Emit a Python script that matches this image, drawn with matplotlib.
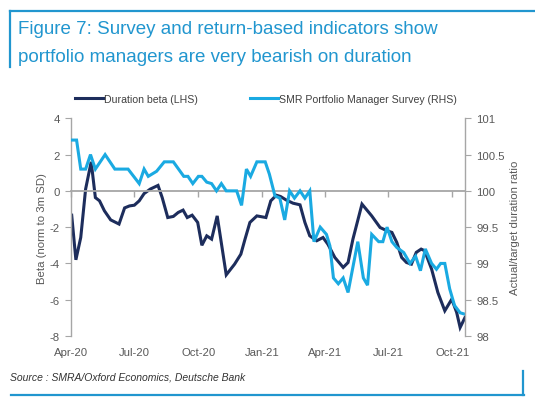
import matplotlib.pyplot as plt
import matplotlib.dates as mdates
import pandas as pd

# Duration beta (LHS)
beta_dates = [
    "2020-04-02", "2020-04-08", "2020-04-15", "2020-04-22", "2020-04-30",
    "2020-05-06", "2020-05-12", "2020-05-19", "2020-05-28", "2020-06-09",
    "2020-06-17", "2020-06-24", "2020-07-01", "2020-07-08", "2020-07-15",
    "2020-07-24", "2020-08-04", "2020-08-10", "2020-08-18", "2020-08-26",
    "2020-09-02", "2020-09-09", "2020-09-15", "2020-09-22", "2020-09-30",
    "2020-10-06", "2020-10-13", "2020-10-20", "2020-10-28", "2020-11-10",
    "2020-11-22", "2020-12-01", "2020-12-07", "2020-12-14", "2020-12-24",
    "2021-01-06", "2021-01-13", "2021-01-21", "2021-01-27", "2021-02-04",
    "2021-02-14", "2021-02-24", "2021-03-03", "2021-03-10", "2021-03-20",
    "2021-03-29", "2021-04-05", "2021-04-15", "2021-04-27", "2021-05-04",
    "2021-05-11", "2021-05-24", "2021-06-07", "2021-06-19", "2021-06-29",
    "2021-07-06", "2021-07-13", "2021-07-20", "2021-07-27", "2021-08-03",
    "2021-08-10", "2021-08-17", "2021-08-22", "2021-09-01", "2021-09-10",
    "2021-09-20", "2021-09-30", "2021-10-07", "2021-10-12", "2021-10-19",
]
beta_values = [
    -1.34, -3.8, -2.57, 0.1, 1.6,
    -0.37, -0.55, -1.1, -1.6, -1.83,
    -0.94, -0.83, -0.79, -0.55, -0.15,
    0.1, 0.3, -0.37, -1.47, -1.41,
    -1.19, -1.06, -1.47, -1.34, -1.74,
    -3.0, -2.48, -2.66, -1.38, -4.63,
    -4.04, -3.49, -2.66, -1.74, -1.38,
    -1.47, -0.55, -0.24, -0.31, -0.5,
    -0.68, -0.77, -1.74, -2.48, -2.75,
    -2.57, -2.94, -3.67, -4.22, -3.95,
    -2.66, -0.73, -1.38, -2.02, -2.2,
    -2.29, -2.84, -3.67, -3.95, -4.04,
    -3.39, -3.21, -3.3, -4.31, -5.6,
    -6.61, -5.97, -6.7, -7.53, -6.98,
]

# SMR Portfolio Manager Survey (RHS)
survey_dates = [
    "2020-04-02", "2020-04-09", "2020-04-15", "2020-04-22", "2020-04-29",
    "2020-05-06", "2020-05-20", "2020-06-03", "2020-06-22", "2020-07-08",
    "2020-07-15", "2020-07-21", "2020-08-02", "2020-08-13", "2020-08-26",
    "2020-09-10", "2020-09-16", "2020-09-23", "2020-10-01", "2020-10-06",
    "2020-10-13", "2020-10-20", "2020-10-27", "2020-11-03", "2020-11-10",
    "2020-11-25", "2020-12-02", "2020-12-09", "2020-12-15", "2020-12-24",
    "2021-01-05", "2021-01-11", "2021-01-19", "2021-01-26", "2021-02-02",
    "2021-02-09", "2021-02-16", "2021-02-24", "2021-03-03", "2021-03-10",
    "2021-03-16", "2021-03-25", "2021-04-03", "2021-04-08", "2021-04-13",
    "2021-04-20", "2021-04-27", "2021-05-04", "2021-05-18", "2021-05-26",
    "2021-06-01", "2021-06-07", "2021-06-17", "2021-06-23", "2021-06-29",
    "2021-07-06", "2021-07-13", "2021-07-23", "2021-08-01", "2021-08-09",
    "2021-08-16", "2021-08-23", "2021-09-01", "2021-09-08", "2021-09-14",
    "2021-09-20", "2021-09-27", "2021-10-04", "2021-10-12", "2021-10-19",
]
survey_values = [
    100.70, 100.70, 100.30, 100.30, 100.50,
    100.30, 100.50, 100.30, 100.30, 100.10,
    100.30, 100.20, 100.27, 100.40, 100.40,
    100.20, 100.20, 100.10, 100.20, 100.20,
    100.12, 100.10, 100.00, 100.10, 100.00,
    100.00, 99.80, 100.30, 100.20, 100.40,
    100.40, 100.23, 99.93, 99.90, 99.60,
    100.00, 99.90, 100.00, 99.90, 100.00,
    99.30, 99.50, 99.40, 99.24, 98.80,
    98.72, 98.80, 98.60, 99.30, 98.80,
    98.70, 99.40, 99.30, 99.30, 99.50,
    99.30, 99.22, 99.15, 99.00, 99.10,
    98.90, 99.20, 99.00, 98.92, 99.00,
    99.00, 98.65, 98.42, 98.32, 98.30,
]

tick_dates = ["2020-04-01", "2020-07-01", "2020-10-01", "2021-01-01",
              "2021-04-01", "2021-07-01", "2021-10-01"]

NAVY = "#1d2d5c"
CYAN = "#1aaae2"
FRAME = "#2196cf"
GREY = "#a6a6a6"
TEXT = "#595959"

plt.rcParams["font.family"] = ["Liberation Sans", "DejaVu Sans"]
plt.rcParams["axes.unicode_minus"] = False

fig = plt.figure(figsize=(5.35, 4.10), dpi=100)

# frame lines around title and source
fig.add_artist(plt.Line2D([10 / 535, 1.0], [1 - 12 / 410] * 2, color=FRAME, lw=1.6))
fig.add_artist(plt.Line2D([10 / 535] * 2, [1 - 12 / 410, 1 - 68 / 410], color=FRAME, lw=1.6))
fig.add_artist(plt.Line2D([11 / 535, 524 / 535], [1 - 395.5 / 410] * 2, color=FRAME, lw=1.6))
fig.add_artist(plt.Line2D([523 / 535] * 2, [1 - 372 / 410, 1 - 396 / 410], color=FRAME, lw=1.6))

fig.text(18 / 535, 1 - 30 / 410,
         "Figure 7: Survey and return-based indicators show",
         color=FRAME, fontsize=13.5, va="center", ha="left")
fig.text(18 / 535, 1 - 57 / 410,
         "portfolio managers are very bearish on duration",
         color=FRAME, fontsize=13.5, va="center", ha="left")
fig.text(10 / 535, 1 - 378 / 410, "Source : SMRA/Oxford Economics, Deutsche Bank",
         fontsize=7.5, style="italic", color="#333333", va="center", ha="left")

ax = fig.add_axes([71 / 535, 1 - 337 / 410, (465 - 71) / 535, (337 - 119.3) / 410])
ax2 = ax.twinx()

bd = pd.to_datetime(beta_dates)
sd = pd.to_datetime(survey_dates)
l1, = ax.plot(bd, beta_values, color=NAVY, lw=2.2, solid_joinstyle="miter",
              label="Duration beta (LHS)")
l2, = ax2.plot(sd, survey_values, color=CYAN, lw=2.2, solid_joinstyle="miter",
               label="SMR Portfolio Manager Survey (RHS)")

ax.set_xlim(pd.Timestamp("2020-04-01"), pd.Timestamp("2021-10-19"))
ax.set_ylim(-8, 4)
ax2.set_ylim(98, 101)
ax.set_yticks([4, 2, 0, -2, -4, -6, -8])
ax2.set_yticks([98, 98.5, 99, 99.5, 100, 100.5, 101])
ax2.set_yticklabels(["98", "98.5", "99", "99.5", "100", "100.5", "101"])

ticks = pd.to_datetime(tick_dates)
ax.set_xticks(ticks)
ax.tick_params(axis="x", labelbottom=False, direction="out", length=4,
               color=GREY, width=1)
ax.spines["bottom"].set_position(("data", 0))
ax.spines["bottom"].set_color(GREY)
ax.spines["bottom"].set_linewidth(1.3)

sec = ax.secondary_xaxis("bottom")
sec.set_xticks(ticks)
sec.xaxis.set_major_formatter(mdates.DateFormatter("%b-%y"))
sec.spines["bottom"].set_visible(False)
sec.tick_params(length=0, pad=8, labelsize=8.2, labelcolor=TEXT)

for a in (ax, ax2):
    a.spines["top"].set_visible(False)
    for s in ("left", "right"):
        a.spines[s].set_color(GREY)
        a.spines[s].set_linewidth(1.0)
ax2.spines["bottom"].set_visible(False)
ax.spines["right"].set_visible(False)
ax2.spines["left"].set_visible(False)

ax.tick_params(axis="y", direction="out", length=4, color=GREY,
               labelsize=8.2, labelcolor=TEXT, pad=4)
ax2.tick_params(axis="y", direction="out", length=4, color=GREY,
                labelsize=8.2, labelcolor=TEXT, pad=4)

ax.set_ylabel("Beta (norm to 3m SD)", fontsize=8.2, color=TEXT, labelpad=2)
ax2.set_ylabel("Actual/target duration ratio", fontsize=8.2, color=TEXT,
               rotation=90, labelpad=4)

fig.legend(handles=[l1, l2], loc="center", bbox_to_anchor=(266 / 535, 1 - 100 / 410),
           ncol=2, frameon=False, fontsize=7.6, labelcolor="#404040",
           handlelength=2.6, handletextpad=0.1, columnspacing=5.0)

fig.savefig("out.png", dpi=100)
